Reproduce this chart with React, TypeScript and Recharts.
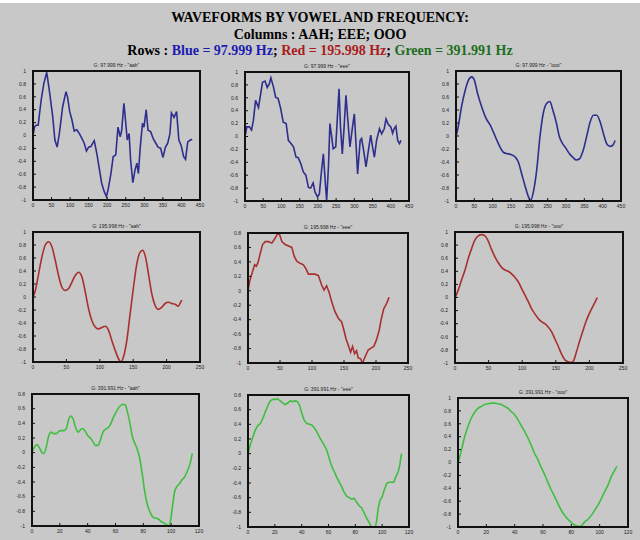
import React from "react";
import { LineChart, Line, XAxis, YAxis } from "recharts";

const xTicks450 = [0, 50, 100, 150, 200, 250, 300, 350, 400, 450];
const xTicks250 = [0, 50, 100, 150, 200, 250];
const xTicks120 = [0, 20, 40, 60, 80, 100, 120];
const yTicksTo1 = [-1, -0.8, -0.6, -0.4, -0.2, 0, 0.2, 0.4, 0.6, 0.8, 1];
const yTicksTo08 = [-1, -0.8, -0.6, -0.4, -0.2, 0, 0.2, 0.4, 0.6, 0.8];

const vowels = ["aah", "eee", "ooo"];
const freqs = ["97.999", "195.998", "391.991"];

// [sample, amplitude]
const blueAah = [
  [0, 0], [4, 0.13], [8, 0.16], [14, 0.16], [22, 0.55], [29, 0.8], [37, 0.98], [44, 0.7],
  [53, 0.3], [59, -0.07], [65, -0.18], [71, 0.03], [80, 0.45], [89, 0.68], [93, 0.6],
  [99, 0.37], [105, 0.24], [111, 0.07], [118, 0.09], [125, 0.03], [132, -0.05], [138, -0.12],
  [144, -0.24], [150, -0.18], [156, -0.17], [165, -0.08], [172, -0.28], [178, -0.49],
  [185, -0.74], [192, -0.87], [198, -0.95], [203, -0.82], [210, -0.59], [216, -0.33],
  [223, -0.3], [229, 0.13], [235, -0.02], [239, 0.08], [245, 0.5], [250, 0.19], [254, -0.07],
  [259, 0.03], [263, -0.38], [269, -0.73], [275, -0.53], [280, -0.43], [284, -0.59],
  [289, -0.18], [295, 0.19], [299, 0.13], [305, 0.4], [310, 0.08], [317, 0.06], [324, -0.05],
  [331, -0.12], [337, -0.18], [344, -0.2], [350, -0.34], [357, -0.18], [363, -0.12],
  [369, 0.03], [373, 0.35], [380, 0.28], [387, 0.37], [393, -0.07], [399, -0.15],
  [406, -0.33], [411, -0.37], [417, -0.1], [424, -0.07], [429, -0.06],
];

const blueEee = [
  [0, 0], [5, 0.15], [12, 0.15], [18, 0.1], [23, 0.25], [29, 0.56], [37, 0.45], [43, 0.66],
  [48, 0.84], [55, 0.86], [61, 0.76], [67, 0.82], [71, 0.91], [78, 0.77], [84, 0.61],
  [91, 0.59], [98, 0.43], [105, 0.22], [113, 0.2], [119, -0.06], [125, -0.1], [133, -0.16],
  [140, -0.32], [146, -0.33], [153, -0.42], [160, -0.55], [167, -0.6], [174, -0.79],
  [180, -0.8], [187, -0.72], [192, -0.86], [199, -0.94], [204, -0.89], [210, -0.53],
  [215, -0.27], [220, -0.68], [224, -1], [229, -0.47], [233, 0.2], [238, -0.01], [242, -0.19],
  [249, -0.16], [253, 0.25], [258, 0.74], [262, 0.15], [267, -0.27], [272, 0.15], [277, 0.64],
  [282, 0.27], [288, -0.16], [295, 0.15], [300, 0.35], [305, -0.16], [309, -0.58],
  [316, -0.06], [320, -0.03], [327, -0.27], [332, -0.47], [338, -0.24], [345, 0.02],
  [350, -0.16], [355, -0.32], [361, -0.06], [369, 0.12], [375, 0.04], [382, 0.12],
  [387, 0.27], [393, 0.19], [400, 0.15], [405, 0.05], [409, 0.12], [414, 0.16], [419, -0.06],
  [424, -0.11], [428, -0.06],
];

const blueOoo = [
  [0, -0.01], [6, 0.14], [15, 0.45], [25, 0.7], [34, 0.86], [43, 0.91], [50, 0.86], [59, 0.65],
  [70, 0.45], [82, 0.27], [93, 0.17], [102, 0.06], [111, -0.06], [120, -0.17], [129, -0.25],
  [138, -0.27], [148, -0.28], [161, -0.32], [170, -0.4], [179, -0.58], [188, -0.76],
  [198, -0.94], [204, -0.99], [211, -0.86], [220, -0.53], [229, -0.01], [238, 0.35],
  [247, 0.5], [256, 0.53], [264, 0.4], [273, 0.22], [282, -0.01], [291, -0.12], [300, -0.19],
  [309, -0.27], [319, -0.33], [328, -0.37], [337, -0.35], [347, -0.22], [357, 0.01],
  [366, 0.22], [375, 0.32], [384, 0.32], [393, 0.22], [402, 0.04], [411, -0.12], [420, -0.16],
  [428, -0.14], [434, -0.07],
];

const redAah = [
  [0, 0], [3.5, 0.1], [8.5, 0.36], [13.4, 0.62], [18.4, 0.8], [23.4, 0.85], [28.4, 0.77],
  [33.4, 0.56], [38.3, 0.33], [43.3, 0.15], [48.3, 0.1], [53.3, 0.13], [58.3, 0.23],
  [63.2, 0.33], [68.2, 0.38], [73.2, 0.31], [78.2, 0.08], [83.2, -0.18], [88.1, -0.36],
  [93.1, -0.46], [98.1, -0.49], [103.1, -0.47], [108.1, -0.45], [113, -0.51], [118, -0.67],
  [123, -0.82], [128, -0.95], [131.5, -1], [135.5, -0.92], [140.4, -0.67], [145.4, -0.26],
  [150.4, 0.15], [155.4, 0.51], [160.4, 0.69], [164.3, 0.72], [167.8, 0.64], [172.8, 0.36],
  [177.8, 0.05], [182.8, -0.13], [187.7, -0.19], [192.7, -0.16], [197.7, -0.1],
  [202.7, -0.08], [207.7, -0.1], [212.6, -0.11], [217.6, -0.14], [221, -0.08], [223, -0.05],
];

const redEee = [
  [0, 0], [2.6, 0.13], [6.2, 0.24], [10.4, 0.36], [13, 0.34], [15.6, 0.39], [19.2, 0.52],
  [22.8, 0.64], [27, 0.68], [32.2, 0.68], [37.3, 0.66], [42.5, 0.73], [46.2, 0.79],
  [49.3, 0.78], [52.9, 0.68], [58.1, 0.64], [63.3, 0.62], [68.5, 0.6], [72.1, 0.48],
  [76.2, 0.41], [81.4, 0.38], [86.6, 0.36], [90.8, 0.3], [94.4, 0.23], [99.6, 0.23],
  [104.8, 0.23], [110, 0.21], [115.1, 0.08], [118.8, 0.01], [122.9, 0.07], [127.1, -0.03],
  [130.7, -0.15], [135.9, -0.29], [141.1, -0.38], [146.3, -0.43], [150, -0.55], [153, -0.66],
  [156.6, -0.75], [160.3, -0.85], [163.4, -0.77], [166.5, -0.87], [169.6, -0.83],
  [172.2, -0.93], [175.8, -0.94], [178.9, -1], [182.6, -0.92], [187.8, -0.82],
  [192.9, -0.79], [196.6, -0.77], [200.7, -0.68], [204.9, -0.55], [208.5, -0.38],
  [212.1, -0.25], [215.2, -0.2], [217.8, -0.15], [220.4, -0.09],
];

const redOoo = [
  [0, -0.01], [5, 0.12], [9.9, 0.27], [14.9, 0.42], [19.8, 0.6], [24.8, 0.75], [29.7, 0.88],
  [34.7, 0.94], [39.6, 0.96], [44.6, 0.94], [49.5, 0.86], [54.5, 0.73], [59.4, 0.62],
  [64.4, 0.53], [69.3, 0.46], [74.3, 0.42], [79.2, 0.4], [84.2, 0.36], [89.1, 0.31],
  [94.1, 0.24], [99, 0.14], [104, 0.04], [108.9, -0.06], [113.9, -0.17], [118.8, -0.25],
  [123.8, -0.32], [128.7, -0.37], [133.7, -0.4], [138.6, -0.45], [143.6, -0.52],
  [148.5, -0.63], [153.5, -0.74], [158.4, -0.86], [163.4, -0.95], [168.3, -0.98],
  [173.3, -0.99], [176.7, -0.96], [180.7, -0.83], [185.6, -0.66], [190.6, -0.5],
  [195.5, -0.35], [200.5, -0.23], [205.4, -0.13], [210.4, -0.03], [211.9, 0],
];

const greenAah = [
  [0, 0.01], [1.9, 0.08], [3.6, 0.11], [5.5, 0.06], [7.2, 0], [8.6, -0.01], [10.3, 0.08],
  [12.2, 0.24], [13.9, 0.28], [15.6, 0.26], [17.5, 0.26], [19.2, 0.29], [21.1, 0.3],
  [23, 0.3], [24.7, 0.33], [26.3, 0.45], [27.8, 0.5], [29.5, 0.46], [31.4, 0.34],
  [33.1, 0.28], [34.7, 0.31], [36.6, 0.33], [38.3, 0.29], [40.2, 0.23], [41.9, 0.2],
  [43.8, 0.15], [45.5, 0.1], [47.4, 0.1], [49.1, 0.17], [51, 0.28], [52.9, 0.32],
  [54.6, 0.34], [56.5, 0.39], [58.2, 0.47], [60.1, 0.54], [61.8, 0.6], [63.5, 0.64],
  [65.4, 0.66], [67.1, 0.65], [68.5, 0.56], [70.2, 0.42], [72.1, 0.22], [73.8, 0.13],
  [75.4, 0.06], [77.4, -0.08], [79.3, -0.3], [81, -0.53], [82.6, -0.69], [84.6, -0.8],
  [86.5, -0.87], [88.1, -0.89], [90.5, -0.9], [92.9, -0.94], [94.9, -0.96], [96.5, -0.98],
  [98.2, -1], [99.4, -0.94], [100.8, -0.76], [102.5, -0.53], [104.2, -0.46], [106.1, -0.42],
  [107.8, -0.37], [109.7, -0.33], [111.4, -0.26], [113.3, -0.17], [115.2, -0.01],
];

const greenEee = [
  [0, -0.01], [1.7, 0.12], [3.7, 0.23], [5.4, 0.32], [7.2, 0.38], [9.2, 0.41], [11.1, 0.48],
  [12.9, 0.57], [14.9, 0.66], [16.6, 0.72], [18.6, 0.74], [20.3, 0.74], [22, 0.75],
  [24, 0.72], [26, 0.69], [27.7, 0.67], [29.7, 0.69], [31.4, 0.72], [33.4, 0.71],
  [35.1, 0.72], [36.9, 0.71], [38.4, 0.66], [40.1, 0.55], [41.8, 0.46], [43.8, 0.41],
  [45.8, 0.4], [47.5, 0.39], [49.5, 0.35], [51.2, 0.3], [53.2, 0.23], [55, 0.17],
  [56.7, 0.12], [58.7, 0.05], [60.6, -0.07], [62.4, -0.17], [64.4, -0.25], [66.1, -0.32],
  [68.1, -0.39], [69.8, -0.45], [71.5, -0.52], [73.5, -0.58], [75.5, -0.6], [77.2, -0.62],
  [79.2, -0.61], [80.9, -0.66], [82.9, -0.71], [84.7, -0.74], [86.4, -0.8], [88.4, -0.88],
  [90.1, -0.93], [91.6, -0.99], [93.3, -1], [94.8, -1], [95.8, -0.93], [97, -0.75],
  [98.3, -0.64], [100, -0.59], [101.5, -0.5], [103.2, -0.41], [104.9, -0.39], [106.9, -0.39],
  [108.7, -0.39], [110.1, -0.32], [111.9, -0.25], [113.1, -0.16], [114.4, 0],
];

const greenOoo = [
  [0, -0.01], [2.4, 0.19], [4.7, 0.4], [7.1, 0.56], [9.4, 0.69], [11.8, 0.78], [14.1, 0.84],
  [16.5, 0.87], [18.8, 0.9], [21.2, 0.91], [23.5, 0.92], [25.9, 0.92], [28.2, 0.91],
  [30.6, 0.9], [32.9, 0.87], [35.3, 0.84], [37.6, 0.79], [40, 0.74], [42.4, 0.66],
  [44.7, 0.57], [47.1, 0.48], [49.4, 0.38], [51.8, 0.26], [54.1, 0.14], [56.5, 0.04],
  [58.8, -0.08], [61.2, -0.19], [63.5, -0.31], [65.9, -0.43], [68.2, -0.53], [70.6, -0.64],
  [72.9, -0.74], [75.3, -0.82], [77.6, -0.88], [80, -0.93], [82.4, -0.97], [84.7, -0.99],
  [87.1, -0.98], [89.4, -0.92], [91.8, -0.88], [94.1, -0.82], [96.5, -0.74], [98.8, -0.66],
  [101.2, -0.56], [103.5, -0.45], [105.9, -0.35], [108.2, -0.22], [110.6, -0.12],
  [112.2, -0.06],
];

const BLUE = "#2e2e8e";
const RED = "#a8302e";
const GREEN = "#3fbf3f";

const panels = [
  { data: blueAah, row: 0, col: 0, box: [33, 71, 200, 200], xt: xTicks450, yt: yTicksTo1, color: BLUE, curve: "linear" },
  { data: blueEee, row: 0, col: 1, box: [245, 72, 409, 201], xt: xTicks450, yt: yTicksTo1, color: BLUE, curve: "linear" },
  { data: blueOoo, row: 0, col: 2, box: [456, 71, 621, 201], xt: xTicks450, yt: yTicksTo1, color: BLUE, curve: "monotone" },
  { data: redAah, row: 1, col: 0, box: [33, 232, 200, 362], xt: xTicks250, yt: yTicksTo1, color: RED, curve: "monotone" },
  { data: redEee, row: 1, col: 1, box: [248, 233, 408, 363], xt: xTicks250, yt: yTicksTo08, color: RED, curve: "linear" },
  { data: redOoo, row: 1, col: 2, box: [455, 232, 623, 363], xt: xTicks250, yt: yTicksTo1, color: RED, curve: "monotone" },
  { data: greenAah, row: 2, col: 0, box: [32, 394, 199, 526], xt: xTicks120, yt: yTicksTo08, color: GREEN, curve: "monotone" },
  { data: greenEee, row: 2, col: 1, box: [248, 395, 409, 527], xt: xTicks120, yt: yTicksTo08, color: GREEN, curve: "linear" },
  { data: greenOoo, row: 2, col: 2, box: [458, 398, 628, 527], xt: xTicks120, yt: yTicksTo1, color: GREEN, curve: "monotone" },
];

const fmt = (v: number) => String(Math.round(v * 10) / 10);
const tickStyle = { fontSize: 5, fill: "#222", fontFamily: "Liberation Sans, Arial, sans-serif" };
const edge = { stroke: "#111", strokeWidth: 2 };
const tickMark = { stroke: "#111", strokeWidth: 1 };

function Panel({ p }: { p: any }) {
  const [l, t, r, b] = p.box;
  const padL = 30, padT = 12, padR = 6, padB = 12;
  const w = r - l + padL + padR;
  const h = b - t + padT + padB;
  const rows = p.data.map((d: number[]) => ({ x: d[0], y: d[1] }));
  const xd = [p.xt[0], p.xt[p.xt.length - 1]];
  const yd = [p.yt[0], p.yt[p.yt.length - 1]];
  const line = { position: "absolute" as const, background: "#111" };
  return (
    <div style={{ position: "absolute", left: l - padL, top: t - padT, width: w, height: h }}>
      <LineChart width={w} height={h} data={rows} margin={{ top: padT, right: padR, bottom: 0, left: 0 }}>
        <XAxis
          dataKey="x" type="number" domain={xd} ticks={p.xt} allowDataOverflow
          height={padB} tickSize={-3} tickMargin={6} axisLine={edge} tickLine={tickMark}
          tick={tickStyle} tickFormatter={fmt} interval={0}
        />
        <XAxis
          xAxisId="top" orientation="top" type="number" domain={xd} ticks={p.xt} allowDataOverflow
          height={0} mirror tickSize={3} axisLine={edge} tickLine={tickMark} tick={false}
        />
        <YAxis
          type="number" domain={yd} ticks={p.yt} allowDataOverflow width={padL}
          tickSize={-3} tickMargin={10} axisLine={edge} tickLine={tickMark}
          tick={tickStyle} tickFormatter={fmt} interval={0}
        />
        <YAxis
          yAxisId="right" orientation="right" type="number" domain={yd} ticks={p.yt} allowDataOverflow
          width={0} mirror tickSize={3} axisLine={edge} tickLine={tickMark} tick={false}
        />
        <Line
          type={p.curve} dataKey="y" stroke={p.color} strokeWidth={1.6} dot={false}
          isAnimationActive={false}
        />
      </LineChart>
      <div
        style={{
          position: "absolute", left: padL, width: r - l, top: 3, textAlign: "center",
          fontSize: 5, lineHeight: "6px", color: "#222", fontFamily: "Liberation Sans, Arial, sans-serif",
        }}
      >
        {`G: ${freqs[p.row]} Hz - "${vowels[p.col]}"`}
      </div>
      <div style={{ ...line, left: padL - 1, top: padT - 1, width: r - l + 2, height: 2 }} />
      <div style={{ ...line, left: padL - 1, top: padT + (b - t) - 1, width: r - l + 2, height: 2 }} />
      <div style={{ ...line, left: padL - 1, top: padT - 1, width: 2, height: b - t + 2 }} />
      <div style={{ ...line, left: padL + (r - l) - 1, top: padT - 1, width: 2, height: b - t + 2 }} />
    </div>
  );
}

export default function App() {
  const head = { fontFamily: "Liberation Serif, Times New Roman, serif", fontWeight: 700, fontSize: 14 };
  return (
    <div
      style={{
        position: "absolute", left: 0, top: 0, width: 640, height: 540, background: "#c8c8c8",
        overflow: "hidden",
      }}
    >
      <div style={{ position: "absolute", left: 0, top: 0, width: 640, height: 3, background: "#fff" }} />
      <div style={{ position: "absolute", left: 0, width: 640, top: 10, textAlign: "center", lineHeight: "16.5px", ...head }}>
        <div>WAVEFORMS BY VOWEL AND FREQUENCY:</div>
        <div>Columns : AAH; EEE; OOO</div>
        <div>
          Rows : <span style={{ color: "#1c1cb0" }}>Blue = 97.999 Hz</span>;{" "}
          <span style={{ color: "#a81c1c" }}>Red = 195.998 Hz</span>;{" "}
          <span style={{ color: "#1c6e1c" }}>Green = 391.991 Hz</span>
        </div>
      </div>
      {panels.map((p, i) => (
        <Panel key={i} p={p} />
      ))}
    </div>
  );
}
